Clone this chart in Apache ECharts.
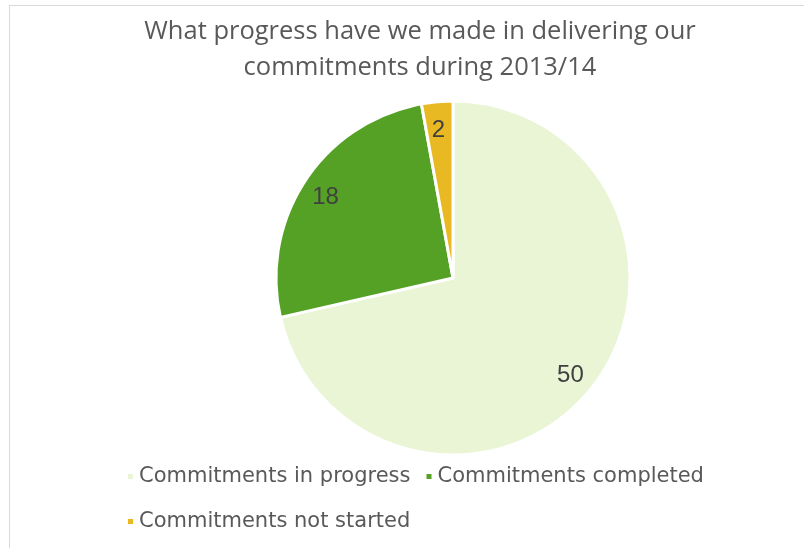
<!DOCTYPE html>
<html>
<head>
<meta charset="utf-8">
<script src="https://cdn.jsdelivr.net/npm/echarts@6/dist/echarts.min.js"></script>
<style>
  html, body { margin: 0; padding: 0; background: #fff; }
  #frame { position: absolute; left: 9px; top: 5px; width: 795px; height: 543px;
           border-left: 1px solid #d9d9d9; border-top: 1px solid #d9d9d9; }
  #myChart { position: absolute; left: 0; top: 0; width: 804px; height: 548px; }
</style>
</head>
<body>
<div id="frame"></div>
<div id="myChart"></div>
<script>
// chart data
const titleText = 'What progress have we made in delivering our\ncommitments during 2013/14'
const categories = ['Commitments in progress', 'Commitments completed', 'Commitments not started']
const values = [50, 18, 2]
const colors = ['#E9F5D5', '#55A125', '#E8B923']

const pieData = categories.map((name, i) => ({ name: name, value: values[i], itemStyle: { color: colors[i] } }))

let myChart = echarts.init(document.getElementById('myChart'))
myChart.setOption({
  animation: false,
  title: {
    text: titleText,
    left: 415, // centre of the title block
    textAlign: 'center',
    top: 9,
    textStyle: { fontFamily: 'Open Sans', fontSize: 25.5, fontWeight: 'normal', color: '#595959', lineHeight: 36 }
  },
  legend: [
    {
      data: categories.slice(0, 2),
      left: 121, top: 461,
      itemWidth: 7, itemHeight: 7, itemGap: 14,
      icon: 'rect',
      textStyle: { fontFamily: 'DejaVu Sans', fontSize: 21, color: '#595959' }
    },
    {
      data: categories.slice(2),
      left: 121, top: 506,
      itemWidth: 7, itemHeight: 7,
      icon: 'rect',
      textStyle: { fontFamily: 'DejaVu Sans', fontSize: 21, color: '#595959' }
    }
  ],
  series: [
    {
      // slices
      type: 'pie',
      center: [453, 278],
      radius: 177,
      startAngle: 90,
      clockwise: true,
      label: { show: false },
      labelLine: { show: false },
      itemStyle: { borderColor: '#fff', borderWidth: 3 },
      data: pieData
    },
    {
      // labels only, ring puts them at ~85% of the radius
      type: 'pie',
      center: [452, 281],
      radius: [120, 177],
      startAngle: 90,
      clockwise: true,
      silent: true,
      itemStyle: { color: 'transparent', borderWidth: 0 },
      label: { show: true, position: 'inside', formatter: '{c}', fontFamily: 'Liberation Sans', fontSize: 24, color: '#404040' },
      labelLine: { show: false },
      data: categories.map((name, i) => ({ name: name, value: values[i] }))
    }
  ]
})
</script>
</body>
</html>
